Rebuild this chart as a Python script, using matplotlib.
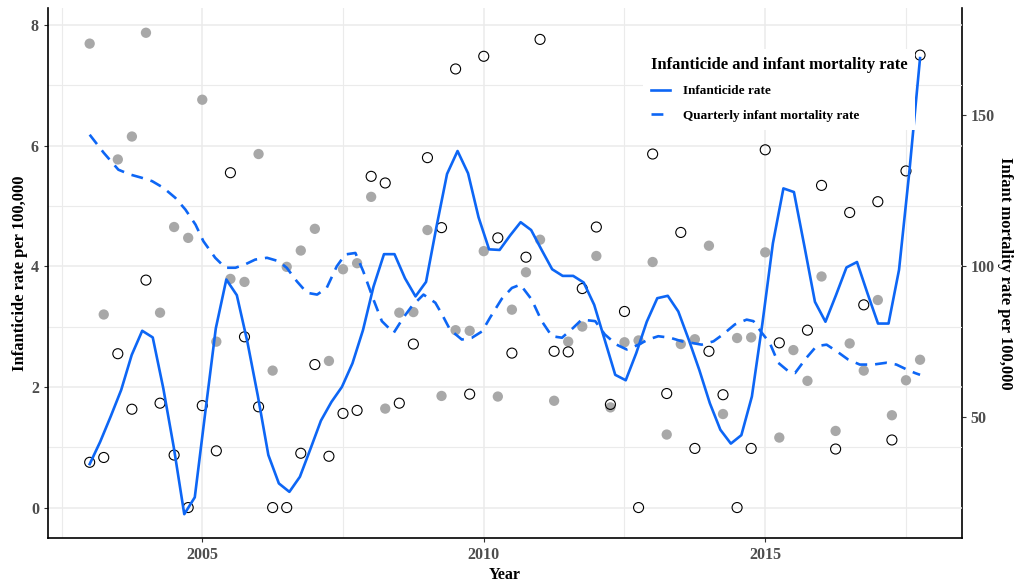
import numpy as np
import matplotlib.pyplot as plt

plt.rcParams['font.family'] = ['Liberation Serif', 'DejaVu Serif']
plt.rcParams['font.weight'] = 'bold'

# quarterly observations, 2003 Q1 .. 2017 Q4
quarter = np.arange(2003, 2018, 0.25)
infanticide = [0.75, 0.83, 2.55, 1.63, 3.77, 1.73, 0.87, 0.00, 1.69, 0.94,
               5.55, 2.83, 1.67, 0.00, 0.00, 0.90, 2.37, 0.85, 1.56, 1.61,
               5.49, 5.38, 1.73, 2.71, 5.80, 4.64, 7.27, 1.88, 7.48, 4.47,
               2.56, 4.15, 7.76, 2.59, 2.58, 3.63, 4.65, 1.71, 3.25, 0.00,
               5.86, 1.89, 4.56, 0.98, 2.59, 1.87, 0.00, 0.98, 5.93, 2.73,
               7.00, 2.94, 5.34, 0.97, 4.89, 3.36, 5.07, 1.12, 5.58, 7.50]
mortality = [173.8, 84.0, 135.4, 143.0, 177.4, 84.6, 113.0, 109.4, 155.2, 75.0,
             95.8, 94.8, 137.2, 65.4, 99.8, 105.2, 112.4, 68.6, 99.0, 101.0,
             123.0, 52.8, 84.6, 84.8, 112.0, 57.0, 78.8, 78.6, 105.0, 56.8,
             85.6, 98.0, 108.8, 55.4, 75.0, 80.0, 103.4, 53.2, 74.8, 75.4,
             101.4, 44.2, 74.2, 75.8, 106.8, 51.0, 76.2, 76.4, 104.6, 43.2,
             72.2, 62.0, 96.6, 45.4, 74.4, 65.4, 88.8, 50.6, 62.2, 69.0]

# smoothed infanticide rate (80 evaluation points)
smooth_year = np.linspace(2003, 2017.75, 80)
infanticide_smooth = [0.72, 1.09, 1.51, 1.95, 2.53, 2.93, 2.82, 1.98, 1.00, -0.11,
                      0.17, 1.58, 2.97, 3.78, 3.52, 2.75, 1.85, 0.87, 0.40, 0.26,
                      0.51, 0.97, 1.44, 1.75, 2.00, 2.39, 2.94, 3.66, 4.20, 4.20,
                      3.80, 3.50, 3.74, 4.66, 5.53, 5.91, 5.54, 4.81, 4.28, 4.27,
                      4.51, 4.73, 4.60, 4.27, 3.95, 3.84, 3.84, 3.73, 3.36, 2.78,
                      2.20, 2.11, 2.56, 3.08, 3.47, 3.51, 3.25, 2.78, 2.28, 1.73,
                      1.29, 1.06, 1.20, 1.84, 3.05, 4.38, 5.29, 5.23, 4.33, 3.41,
                      3.08, 3.52, 3.98, 4.07, 3.55, 3.05, 3.05, 3.94, 5.60, 7.45]

# smoothed quarterly infant mortality rate
mort_smooth_year = [2003.00, 2003.25, 2003.51, 2003.72, 2003.93, 2004.11, 2004.31, 2004.52,
                    2004.70, 2004.88, 2005.02, 2005.23, 2005.41, 2005.59, 2005.76, 2005.94,
                    2006.15, 2006.35, 2006.50, 2006.68, 2006.86, 2007.04, 2007.21, 2007.39,
                    2007.54, 2007.72, 2007.86, 2008.04, 2008.19, 2008.40, 2008.57, 2008.72,
                    2008.93, 2009.14, 2009.26, 2009.40, 2009.61, 2009.79, 2009.97, 2010.11,
                    2010.32, 2010.50, 2010.65, 2010.85, 2011.03, 2011.21, 2011.39, 2011.59,
                    2011.74, 2011.98, 2012.15, 2012.36, 2012.54, 2012.75, 2012.92, 2013.10,
                    2013.31, 2013.52, 2013.69, 2013.87, 2014.08, 2014.25, 2014.46, 2014.67,
                    2014.79, 2014.94, 2015.08, 2015.23, 2015.41, 2015.53, 2015.73, 2015.91,
                    2016.09, 2016.27, 2016.47, 2016.68, 2016.92, 2017.15, 2017.33, 2017.51,
                    2017.66, 2017.75]
mortality_smooth = [143.6, 137.6, 132.0, 130.4, 129.3, 128.2, 126.0, 122.7,
                    118.8, 113.8, 108.3, 102.8, 99.5, 99.5, 100.6, 102.2,
                    102.8, 101.7, 99.5, 95.0, 91.2, 90.6, 92.8, 100.0,
                    103.9, 104.4, 98.3, 89.0, 81.8, 77.9, 82.9, 86.7,
                    90.6, 87.9, 84.0, 79.0, 75.7, 76.3, 78.4, 82.9,
                    89.2, 92.8, 93.9, 89.0, 81.8, 76.8, 76.3, 79.6,
                    82.3, 81.8, 77.4, 74.0, 72.4, 74.0, 75.7, 76.8,
                    76.3, 75.1, 74.6, 74.0, 75.1, 77.4, 80.7, 82.3,
                    81.8, 77.9, 74.6, 68.0, 65.2, 64.6, 69.6, 73.5,
                    74.0, 71.8, 69.1, 67.4, 67.4, 68.0, 67.4, 65.8,
                    64.6, 64.0]


def to_left(m):
    return (np.asarray(m, dtype=float) - 20) / 20


def to_right(v):
    return np.asarray(v, dtype=float) * 20 + 20


blue = '#0d66f5'
tick_col = '#4d4d4d'

fig = plt.figure(figsize=(10.15, 5.86), dpi=100)
ax = fig.add_axes([0.0473, 0.0824, 0.9002, 0.9039])

ax.scatter(quarter, to_left(mortality), s=55, color='#a8a8a8', edgecolors='none', zorder=2)
ax.scatter(quarter, infanticide, s=52, facecolors='none', edgecolors='black', linewidths=0.8, zorder=3)
ax.plot(smooth_year, infanticide_smooth, color=blue, lw=1.9, label='Infanticide rate', zorder=4)
ax.plot(mort_smooth_year, to_left(mortality_smooth), color=blue, lw=1.9, ls=(0, (4.5, 3)),
        label='Quarterly infant mortality rate', zorder=4)

ax.set_xlim(2002.26, 2018.49)
ax.set_ylim(-0.5, 8.28)
ax.set_xticks([2005, 2010, 2015])
ax.set_xticks([2002.5, 2007.5, 2012.5, 2017.5], minor=True)
ax.set_yticks([0, 2, 4, 6, 8])
ax.set_yticks([1, 3, 5, 7], minor=True)
ax.grid(which='major', color='#ebebeb', lw=1.1, zorder=0)
ax.grid(which='minor', color='#ebebeb', lw=0.8, zorder=0)
ax.set_axisbelow(True)
ax.tick_params(which='minor', length=0)
ax.tick_params(which='major', length=3, width=0.8, color='#333333', labelcolor=tick_col, labelsize=11.5)

for s in ['top', 'right']:
    ax.spines[s].set_visible(False)
for s in ['left', 'bottom']:
    ax.spines[s].set_linewidth(1.2)

sec = ax.secondary_yaxis('right', functions=(to_right, to_left))
sec.set_yticks([50, 100, 150])
sec.tick_params(length=3, width=0.8, color='#333333', labelcolor=tick_col, labelsize=11.5)
sec.spines['right'].set_linewidth(1.2)
sec.set_ylabel('Infant mortality rate per 100,000', rotation=270, fontsize=12,
               fontweight='bold', labelpad=13)

ax.set_xlabel('Year', fontsize=11.5, fontweight='bold', labelpad=3)
ax.set_ylabel('Infanticide rate per 100,000', fontsize=12, fontweight='bold', labelpad=2)

leg = ax.legend(title='Infanticide and infant mortality rate', loc='upper left',
                bbox_to_anchor=(636 / 1015, 1 - 42 / 586), bbox_transform=fig.transFigure,
                fontsize=9.5, title_fontsize=11.9, handlelength=1.5, alignment='left',
                frameon=True, borderpad=0.6, labelspacing=0.95, handletextpad=1.0)
leg.get_title().set_fontweight('bold')
leg.get_frame().set_facecolor('white')
leg.get_frame().set_edgecolor('none')
leg.get_frame().set_alpha(1)
leg.get_frame().set_boxstyle('square', pad=0)
leg.set_zorder(10)

fig.savefig('out.png', dpi=100)
